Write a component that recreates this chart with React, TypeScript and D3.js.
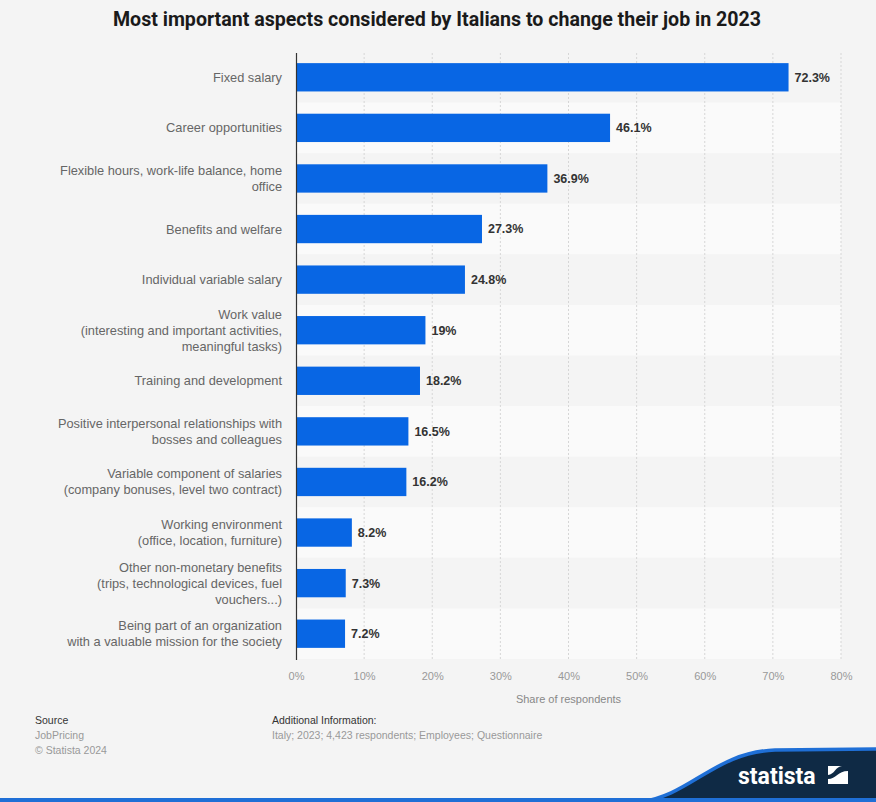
import React, { useEffect, useRef } from 'react';
import * as d3 from 'd3';

const categories = [
  'Fixed salary',
  'Career opportunities',
  'Flexible hours, work-life balance, home\noffice',
  'Benefits and welfare',
  'Individual variable salary',
  'Work value\n(interesting and important activities,\nmeaningful tasks)',
  'Training and development',
  'Positive interpersonal relationships with\nbosses and colleagues',
  'Variable component of salaries\n(company bonuses, level two contract)',
  'Working environment\n(office, location, furniture)',
  'Other non-monetary benefits\n(trips, technological devices, fuel\nvouchers...)',
  'Being part of an organization\nwith a valuable mission for the society',
];
const values = [72.3, 46.1, 36.9, 27.3, 24.8, 19, 18.2, 16.5, 16.2, 8.2, 7.3, 7.2];
const ticks = [0, 10, 20, 30, 40, 50, 60, 70, 80];

const W = 876;
const H = 802;
const FONT = '"Liberation Sans", Arial, sans-serif';

const App: React.FC = () => {
  const svgRef = useRef<SVGSVGElement>(null);

  useEffect(() => {
    document.body.style.margin = '0';
    if (!svgRef.current) return;
    const svg = d3.select(svgRef.current);
    svg.selectAll('*').remove();

    const margin = { top: 53, left: 296, right: 35, bottom: 142 };
    const width = W - margin.left - margin.right;
    const height = H - margin.top - margin.bottom;

    svg.append('rect').attr('width', W).attr('height', H).attr('fill', '#f4f4f4');

    // Title
    svg.append('text')
      .attr('x', 437)
      .attr('y', 26)
      .attr('text-anchor', 'middle')
      .style('font-family', 'Roboto, sans-serif')
      .style('font-weight', 'bold')
      .style('font-size', '19.6px')
      .style('fill', '#1a1a1a')
      .text('Most important aspects considered by Italians to change their job in 2023');

    const g = svg.append('g').attr('transform', `translate(${margin.left},${margin.top})`);

    const x = d3.scaleLinear().domain([0, 80]).range([0, width]);
    const y = d3.scaleBand<string>().domain(categories).range([0, height]).paddingInner(0.44).paddingOuter(0.22);
    const step = y.step();

    // Alternating row backgrounds
    g.selectAll('.row')
      .data(categories)
      .enter()
      .append('rect')
      .attr('x', 0)
      .attr('y', (d) => (y(d) || 0) - y.paddingOuter() * step - 1)
      .attr('width', width)
      .attr('height', step)
      .attr('fill', (d, i) => (i % 2 === 1 ? '#fafafa' : 'none'));

    // Gridlines
    g.selectAll('.grid')
      .data(ticks.slice(1))
      .enter()
      .append('line')
      .attr('x1', (d) => x(d))
      .attr('x2', (d) => x(d))
      .attr('y1', 0)
      .attr('y2', height)
      .attr('stroke', '#d6d6d6')
      .attr('stroke-width', 1)
      .attr('stroke-dasharray', '2,2');

    // Bars
    g.selectAll('.bar')
      .data(values)
      .enter()
      .append('rect')
      .attr('x', 0)
      .attr('y', (d, i) => (y(categories[i]) || 0) - 1)
      .attr('width', (d) => x(d))
      .attr('height', y.bandwidth())
      .attr('fill', '#0866e4');

    // Value labels
    g.selectAll('.val')
      .data(values)
      .enter()
      .append('text')
      .attr('x', (d) => x(d) + 6)
      .attr('y', (d, i) => (y(categories[i]) || 0) - 1 + y.bandwidth() / 2)
      .attr('dy', '0.35em')
      .style('font-family', FONT)
      .style('font-weight', 'bold')
      .style('font-size', '12.5px')
      .style('fill', '#333')
      .text((d) => `${d}%`);

    // Category labels
    categories.forEach((c) => {
      const lines = c.split('\n');
      const cy = (y(c) || 0) - 1 + y.bandwidth() / 2;
      const lh = 16;
      const t = g.append('text')
        .attr('text-anchor', 'end')
        .style('font-family', FONT)
        .style('font-size', '12.8px')
        .style('fill', '#666');
      lines.forEach((l, j) => {
        t.append('tspan')
          .attr('x', -14)
          .attr('y', cy + (j - (lines.length - 1) / 2) * lh)
          .attr('dy', '0.35em')
          .text(l);
      });
    });

    // Axis line
    g.append('line')
      .attr('x1', 0.5).attr('x2', 0.5)
      .attr('y1', 0).attr('y2', height)
      .attr('stroke', '#333').attr('stroke-width', 1.2);

    // X tick labels
    const xAxis = g.append('g')
      .attr('transform', `translate(0,${height})`)
      .call(d3.axisBottom(x).tickValues(ticks).tickFormat((d) => `${d}%`).tickSize(0).tickPadding(12));
    xAxis.select('.domain').remove();
    xAxis.selectAll('text')
      .style('font-family', FONT)
      .style('font-size', '11px')
      .style('fill', '#999');

    g.append('text')
      .attr('x', width / 2)
      .attr('y', height + 43)
      .attr('text-anchor', 'middle')
      .style('font-family', FONT)
      .style('font-size', '11px')
      .style('fill', '#888')
      .text('Share of respondents');

    // Footer
    const foot = (tx: string, fx: number, fy: number, col: string) =>
      svg.append('text')
        .attr('x', fx).attr('y', fy)
        .style('font-family', FONT)
        .style('font-size', '10.5px')
        .style('fill', col)
        .text(tx);
    foot('Source', 35, 724, '#333');
    foot('JobPricing', 35, 739, '#999');
    foot('© Statista 2024', 35, 754, '#999');
    foot('Additional Information:', 272, 724, '#333');
    foot('Italy; 2023; 4,423 respondents; Employees; Questionnaire', 272, 739, '#999');

    // Logo
    svg.append('path')
      .attr('d', 'M 640 802 C 690 796, 715 752, 775 750 L 876 749 L 876 802 Z')
      .attr('fill', '#0f2a45');
    svg.append('path')
      .attr('d', 'M 640 802 C 690 796, 715 752, 775 750 L 876 749')
      .attr('fill', 'none')
      .attr('stroke', '#1f6fd6')
      .attr('stroke-width', 3.5);
    svg.append('rect').attr('x', 0).attr('y', 798).attr('width', W).attr('height', 4).attr('fill', '#1f6fd6');
    svg.append('text')
      .attr('x', 738).attr('y', 784)
      .style('font-family', 'Roboto, sans-serif')
      .style('font-weight', 'bold')
      .style('font-size', '23px')
      .style('fill', '#fff')
      .text('statista');
    svg.append('rect').attr('x', 828).attr('y', 766).attr('width', 20).attr('height', 18).attr('fill', '#fff');
    svg.append('path')
      .attr('d', 'M 828 784 L 828 779 C 836 779, 838 771, 848 771 L 848 766 L 842 766 C 836 766, 834 775, 828 775 Z')
      .attr('fill', '#0f2a45');
  }, []);

  return (
    <div style={{ position: 'absolute', left: 0, top: 0 }}>
      <svg ref={svgRef} width={W} height={H} style={{ display: 'block' }}></svg>
    </div>
  );
};

export default App;
